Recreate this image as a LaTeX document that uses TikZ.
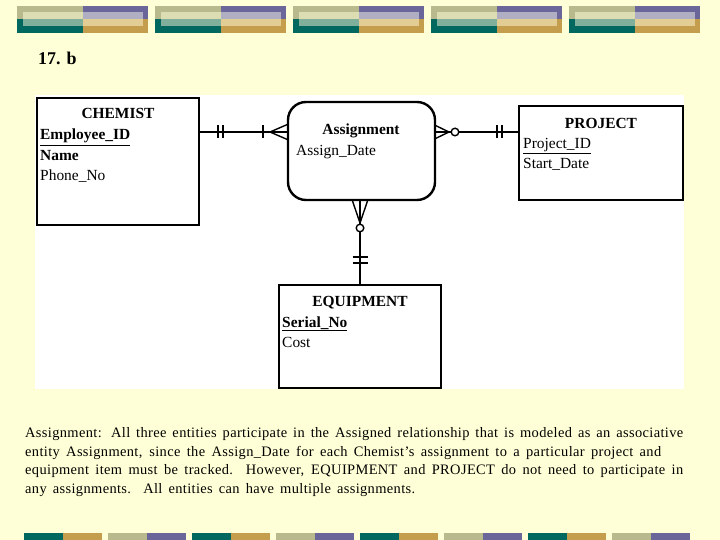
\documentclass[tikz,border=0pt]{standalone}
\usepackage{fontspec}
\setmainfont{Liberation Serif}
\newfontfamily\capfont[LetterSpace=2.5]{Liberation Serif}
\usetikzlibrary{calc}
\definecolor{bg}{RGB}{255,255,215}
\definecolor{olv}{RGB}{184,186,142}
\definecolor{olvl}{RGB}{220,221,178}
\definecolor{pur}{RGB}{106,102,153}
\definecolor{purl}{RGB}{176,174,194}
\definecolor{tea}{RGB}{0,104,94}
\definecolor{teal2}{RGB}{128,176,156}
\definecolor{gld}{RGB}{196,158,76}
\definecolor{gldl}{RGB}{226,206,148}
\begin{document}
\begin{tikzpicture}[x=1bp,y=-1bp,
 ent/.style={draw=black,line width=2.4bp,fill=white,inner sep=0pt},
 conn/.style={line width=1.4bp},
 lbl/.style={inner sep=0pt,anchor=base west,font=\fontsize{15.5}{18}\selectfont},
 lblb/.style={inner sep=0pt,anchor=base west,font=\fontsize{15.5}{18}\selectfont\bfseries},
 ttl/.style={inner sep=0pt,anchor=base,font=\fontsize{15.5}{18}\selectfont\bfseries},
 captxt/.style={inner sep=0pt,anchor=base west,font=\capfont\fontsize{14.5}{18}\selectfont}]
\fill[bg] (0,0) rectangle (720,540);
\useasboundingbox (0,0) rectangle (720,540);
% header
\foreach \x in {17,155,293,431,569}{
 \fill[olv] (\x,6) rectangle (\x+66,19.5);
 \fill[pur] (\x+66,6) rectangle (\x+131,19.5);
 \fill[tea] (\x,19.5) rectangle (\x+66,33);
 \fill[gld] (\x+66,19.5) rectangle (\x+131,33);
 \fill[olvl] (\x+6,12) rectangle (\x+66,19.5);
 \fill[purl] (\x+66,12) rectangle (\x+126,19.5);
 \fill[teal2] (\x+6,19.5) rectangle (\x+66,26);
 \fill[gldl] (\x+66,19.5) rectangle (\x+126,26);
}
% footer
\foreach \k in {0,2,4,6}{
 \fill[tea] (24+84*\k,533) rectangle (63+84*\k,540);
 \fill[gld] (63+84*\k,533) rectangle (102+84*\k,540);
}
\foreach \k in {1,3,5,7}{
 \fill[olv] (24+84*\k,533) rectangle (63+84*\k,540);
 \fill[pur] (63+84*\k,533) rectangle (102+84*\k,540);
}
% diagram area
\fill[white] (35,95) rectangle (684,389);
\node[inner sep=0pt,anchor=base west,font=\fontsize{18}{20}\selectfont\bfseries] (title) at (38,65) {17. b};
% entities
\node[ent,minimum width=162bp,minimum height=127bp] (chem) at (118,161.5) {};
\node[ent,rounded corners=18bp,minimum width=147bp,minimum height=98bp] (assign) at (361.5,151) {};
\node[ent,minimum width=164bp,minimum height=94bp] (proj) at (601,153) {};
\node[ent,minimum width=162bp,minimum height=103bp] (equip) at (360,336.5) {};
% texts
\node[ttl] (chemT) at (118,119) {CHEMIST};
\node[lblb] (chemA) at (40,140) {\underline{Employee\_ID}};
\node[lblb] (chemB) at (40,161) {Name};
\node[lbl] (chemC) at (40,181) {Phone\_No};
\node[ttl] (asT) at (361,135) {Assignment};
\node[lbl] (asA) at (296,156) {Assign\_Date};
\node[ttl] (prT) at (601,129) {PROJECT};
\node[lbl] (prA) at (523,149) {\underline{Project\_ID}};
\node[lbl] (prB) at (523,169) {Start\_Date};
\node[ttl] (eqT) at (360,306) {EQUIPMENT};
\node[lblb] (eqA) at (282,327) {\underline{Serial\_No}};
\node[lbl] (eqB) at (282,347) {Cost};
% connectors
\coordinate (yl) at (0,132);
\draw[conn] (chem.east |- yl) -- (assign.west |- yl);
\draw[conn] (218,125.5) -- (218,138.5);
\draw[conn] (223,125.5) -- (223,138.5);
\draw[conn] (263,125.5) -- (263,138.5);
\draw[conn] (288.5,124) -- (270,132) -- (288.5,140);
\draw[conn] (assign.east |- yl) -- (proj.west |- yl);
\draw[conn] (434.5,125) -- (449,132) -- (434.5,139);
\draw[conn,fill=white] (455,132) circle[radius=3.8bp];
\draw[conn] (497,125.5) -- (497,138.5);
\draw[conn] (502,125.5) -- (502,138.5);
\draw[conn] (equip.north |- assign.south) -- (equip.north);
\draw[conn] (352,199.5) -- (360,223) -- (368,199.5);
\draw[conn,fill=white] (360,228) circle[radius=3.8bp];
\draw[conn] (352.5,257) -- (367.5,257);
\draw[conn] (352.5,263) -- (367.5,263);
% caption
\node[captxt] (c1) at (25,437) {\makebox[658bp][s]{Assignment: All three entities participate in the Assigned relationship that is modeled as an associative}};
\node[captxt] (c2) at (25,456) {\makebox[636bp][s]{entity Assignment, since the Assign\_Date for each Chemist’s assignment to a particular project and}};
\node[captxt] (c3) at (25,474.5) {\makebox[658bp][s]{equipment item must be tracked.\ \ However, EQUIPMENT and PROJECT do not need to participate in}};
\node[captxt] (c4) at (25,493) {\makebox[390bp][s]{any assignments.\ \ All entities can have multiple assignments.}};
\end{tikzpicture}
\end{document}
